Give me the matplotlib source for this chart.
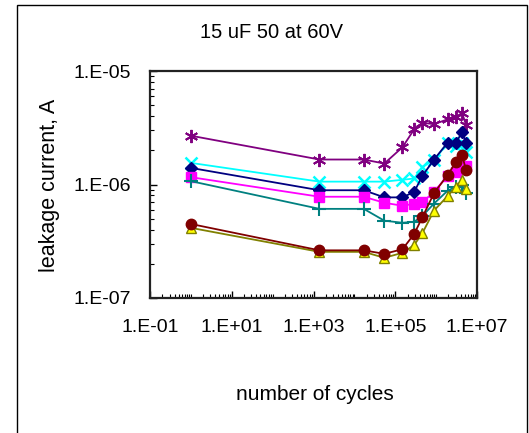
import numpy as np
import matplotlib
matplotlib.use("Agg")
import matplotlib.pyplot as plt
from matplotlib.ticker import FixedLocator, FuncFormatter, NullFormatter
from matplotlib.patches import Rectangle

plt.rcParams['font.family'] = ['Liberation Sans', 'DejaVu Sans']

cycles = [1, 1.4e3, 1.7e4, 5.4e4, 1.5e5, 2.9e5, 4.6e5, 8.9e5, 1.9e6, 3.1e6, 4.3e6, 5.4e6]

s_purple  = [2.69e-6, 1.66e-6, 1.66e-6, 1.53e-6, 2.13e-6, 3.06e-6, 3.5e-6, 3.4e-6, 3.75e-6, 3.9e-6, 4.3e-6, 3.34e-6]
s_cyan    = [1.55e-6, 1.06e-6, 1.06e-6, 1.06e-6, 1.1e-6, 1.13e-6, 1.43e-6, 1.64e-6, 2.3e-6, 2.2e-6, 2.31e-6, 1.95e-6]
s_navy    = [1.40e-6, 8.9e-7, 8.9e-7, 7.7e-7, 7.7e-7, 8.6e-7, 1.19e-6, 1.66e-6, 2.33e-6, 2.33e-6, 2.92e-6, 2.3e-6]
s_magenta = [1.16e-6, 7.8e-7, 7.8e-7, 6.9e-7, 6.5e-7, 6.76e-7, 6.97e-7, 8.64e-7, 1.19e-6, 1.3e-6, 1.42e-6, 1.46e-6]
s_teal    = [1.07e-6, 6.1e-7, 6.1e-7, 4.8e-7, 4.6e-7, 4.7e-7, 5.27e-7, 6.8e-7, 8.8e-7, 9.6e-7, 1.0e-6, 8.4e-7]
s_maroon  = [4.49e-7, 2.63e-7, 2.63e-7, 2.45e-7, 2.69e-7, 3.66e-7, 5.14e-7, 8.4e-7, 1.21e-6, 1.59e-6, 1.82e-6, 1.34e-6]
s_yellow  = [4.15e-7, 2.55e-7, 2.55e-7, 2.26e-7, 2.5e-7, 2.93e-7, 3.72e-7, 5.9e-7, 7.9e-7, 9.6e-7, 1.1e-6, 9.1e-7]

title = "15 uF 50 at 60V"
xlabel = "number of cycles"
ylabel = "leakage current, A"

fig = plt.figure(figsize=(5.29, 4.33), dpi=100)
W, H = 529, 433
ax = fig.add_axes([150 / W, 1 - 298 / H, (477 - 150) / W, (298 - 71) / H])

lw = 1.3
ms = 7.5
ax.plot(cycles, s_purple, color='#800080', lw=lw, marker=(6, 2, 0), ms=9.5, mew=1.4)
ax.plot(cycles, s_cyan, color='#00FFFF', lw=lw, marker='x', ms=8.5, mew=1.8)
ax.plot(cycles, s_navy, color='#000080', lw=lw, marker='D', ms=6.5)
ax.plot(cycles, s_magenta, color='#FF00FF', lw=lw, marker='s', ms=ms)
ax.plot(cycles, s_teal, color='#008080', lw=lw, marker='+', ms=9.5, mew=1.5)
ax.plot(cycles, s_yellow, color='#808000', lw=lw, marker='^', ms=ms,
        mfc='#FFFF00', mec='#808000', mew=1.0)
ax.plot(cycles, s_maroon, color='#800000', lw=lw, marker='o', ms=ms)

ax.set_xscale('log')
ax.set_yscale('log')
ax.set_xlim(1e-1, 1e7)
ax.set_ylim(1e-7, 1e-5)

xmaj = [1e-1, 1e1, 1e3, 1e5, 1e7]
ax.xaxis.set_major_locator(FixedLocator(xmaj))
xmin = []
for e in range(-1, 7):
    for m in range(2, 11):
        v = m * 10.0 ** e
        if v not in xmaj and v <= 1e7:
            xmin.append(v)
ax.xaxis.set_minor_locator(FixedLocator(xmin))
ymaj = [1e-7, 1e-6, 1e-5]
ax.yaxis.set_major_locator(FixedLocator(ymaj))
ymin = [m * 10.0 ** e for e in (-7, -6) for m in range(2, 10)]
ax.yaxis.set_minor_locator(FixedLocator(ymin))

fmt = FuncFormatter(lambda v, p: "1.E%+03d" % int(round(np.log10(v))))
ax.xaxis.set_major_formatter(fmt)
ax.yaxis.set_major_formatter(fmt)
ax.xaxis.set_minor_formatter(NullFormatter())
ax.yaxis.set_minor_formatter(NullFormatter())

ax.tick_params(which='both', direction='in', top=False, right=False, labelsize=14, color='black')
ax.tick_params(which='major', length=5, width=1)
ax.tick_params(which='minor', length=3, width=0.8)
ax.tick_params(axis='x', which='major', pad=15)
ax.tick_params(axis='y', which='major', pad=14)

for sp in ax.spines.values():
    sp.set_linewidth(1.6)
    sp.set_color('#222222')

fig.text(315 / W, 1 - 395 / H, xlabel, ha='center', va='center', fontsize=15)
fig.text(50 / W, 1 - 185 / H, ylabel, ha='center', va='center', fontsize=15.5, rotation=90)
fig.text(271 / W, 1 - 33 / H, title, ha='center', va='center', fontsize=14.5)

fig.patches.append(Rectangle((17 / W, -0.02), (527 - 17) / W, 1 - 5 / H + 0.02,
                             transform=fig.transFigure, fill=False,
                             edgecolor='black', lw=1.0))

fig.savefig('out.png', dpi=100)
